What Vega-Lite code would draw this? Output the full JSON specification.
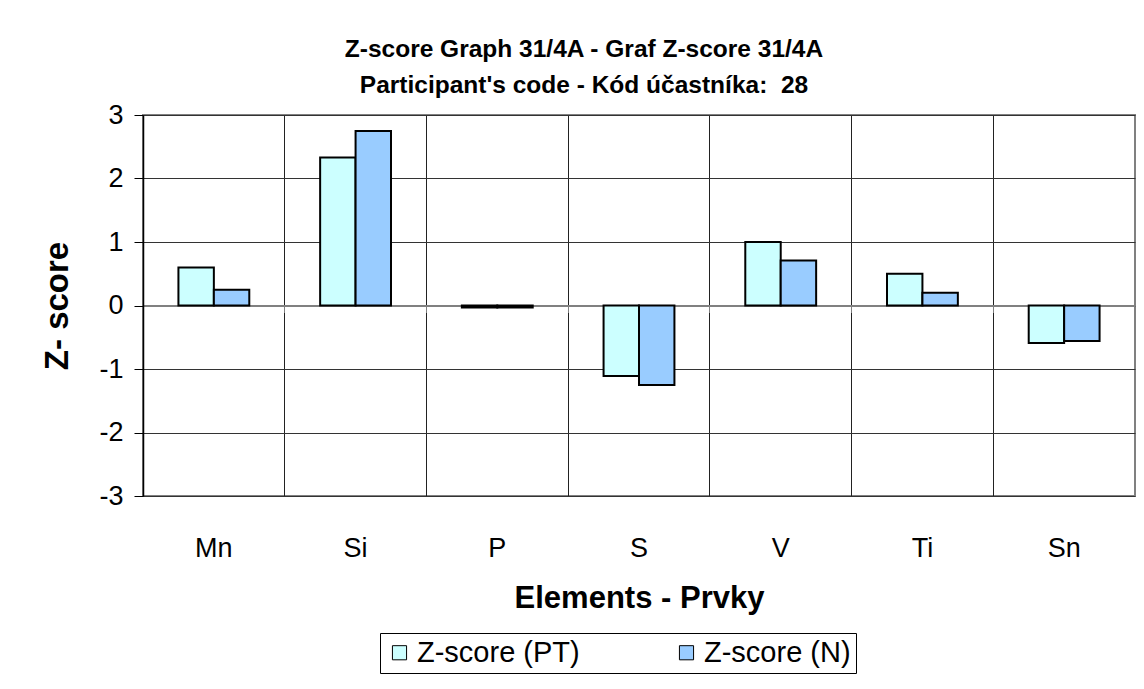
{
  "$schema": "https://vega.github.io/schema/vega-lite/v6.json",
  "width": 992,
  "height": 381,
  "autosize": "none",
  "padding": {"left": 143, "top": 115, "right": 9, "bottom": 193},
  "background": "white",
  "config": {
    "font": "Liberation Sans",
    "view": {"stroke": "#808080", "strokeWidth": 2}
  },
  "title": {
    "text": ["Z-score Graph 31/4A - Graf Z-score 31/4A", "Participant's code - Kód účastníka:\u00a0 28"],
    "fontSize": 24.5,
    "fontWeight": "bold",
    "font": "Liberation Sans",
    "color": "black",
    "lineHeight": 36,
    "anchor": "middle",
    "dx": -55,
    "offset": 3
  },
  "data": {
    "values": [
      {"element": "Mn", "series": "Z-score (PT)", "value": 0.60},
      {"element": "Mn", "series": "Z-score (N)", "value": 0.25},
      {"element": "Si", "series": "Z-score (PT)", "value": 2.33},
      {"element": "Si", "series": "Z-score (N)", "value": 2.75},
      {"element": "P", "series": "Z-score (PT)", "value": -0.03},
      {"element": "P", "series": "Z-score (N)", "value": -0.03},
      {"element": "S", "series": "Z-score (PT)", "value": -1.11},
      {"element": "S", "series": "Z-score (N)", "value": -1.25},
      {"element": "V", "series": "Z-score (PT)", "value": 1.00},
      {"element": "V", "series": "Z-score (N)", "value": 0.71},
      {"element": "Ti", "series": "Z-score (PT)", "value": 0.50},
      {"element": "Ti", "series": "Z-score (N)", "value": 0.20},
      {"element": "Sn", "series": "Z-score (PT)", "value": -0.59},
      {"element": "Sn", "series": "Z-score (N)", "value": -0.56}
    ]
  },
  "layer": [
    {
      "mark": {"type": "bar", "stroke": "black", "strokeWidth": 2},
      "encoding": {
        "x": {
          "field": "element",
          "type": "nominal",
          "sort": ["Mn", "Si", "P", "S", "V", "Ti", "Sn"],
          "scale": {"paddingInner": 0, "paddingOuter": 0},
          "axis": {
            "title": "Elements - Prvky",
            "titleFontSize": 31,
            "titleFontWeight": "bold",
            "titleColor": "black",
            "titleX": 496,
            "titleY": 102,
            "titleBaseline": "middle",
            "labelFontSize": 27,
            "labelColor": "black",
            "labelAngle": 0,
            "labelPadding": 52,
            "labelBaseline": "middle",
            "bandPosition": 0,
            "ticks": false,
            "domain": false,
            "grid": true,
            "gridColor": "#222222",
            "gridWidth": 1
          }
        },
        "xOffset": {
          "field": "series",
          "type": "nominal",
          "sort": ["Z-score (PT)", "Z-score (N)"],
          "scale": {"paddingInner": 0, "paddingOuter": 1.5}
        },
        "y": {
          "field": "value",
          "type": "quantitative",
          "scale": {"domain": [-3, 3], "nice": false},
          "axis": {
            "values": [-3, -2, -1, 0, 1, 2, 3],
            "labelExpr": "'' + datum.value",
            "title": "Z- score",
            "titleFontSize": 33,
            "titleFontWeight": "bold",
            "titleColor": "black",
            "titleX": -86,
            "titleY": 190.5,
            "titleAngle": 270,
            "titleAlign": "center",
            "titleBaseline": "middle",
            "labelFontSize": 27,
            "labelColor": "black",
            "labelPadding": 11,
            "tickSize": 9,
            "tickColor": "black",
            "domainColor": "black",
            "domainWidth": 1.5,
            "gridColor": "#333333",
            "gridWidth": 1
          }
        },
        "color": {
          "field": "series",
          "type": "nominal",
          "sort": ["Z-score (PT)", "Z-score (N)"],
          "scale": {"domain": ["Z-score (PT)", "Z-score (N)"], "range": ["#CCFFFF", "#99CCFF"]},
          "legend": {
            "title": null,
            "orient": "none",
            "legendX": 237,
            "legendY": 518,
            "direction": "horizontal",
            "strokeColor": "black",
            "padding": 5,
            "symbolType": "square",
            "symbolSize": 200,
            "symbolStrokeColor": "black",
            "symbolStrokeWidth": 1,
            "symbolOpacity": 1,
            "labelFontSize": 29,
            "labelColor": "black",
            "labelOffset": 3,
            "labelLimit": 300,
            "columnPadding": 92
          }
        }
      }
    },
    {
      "mark": {"type": "point", "opacity": 0},
      "encoding": {
        "x": {
          "field": "element",
          "type": "nominal",
          "sort": ["Mn", "Si", "P", "S", "V", "Ti", "Sn"],
          "axis": {
            "orient": "bottom",
            "offset": -190.5,
            "title": null,
            "labels": false,
            "grid": false,
            "ticks": true,
            "tickSize": 7,
            "tickColor": "#808080",
            "bandPosition": 0,
            "domainColor": "#808080",
            "domainWidth": 2
          }
        },
        "y": {"datum": 0, "type": "quantitative"}
      }
    }
  ],
  "resolve": {"axis": {"x": "independent"}}
}
